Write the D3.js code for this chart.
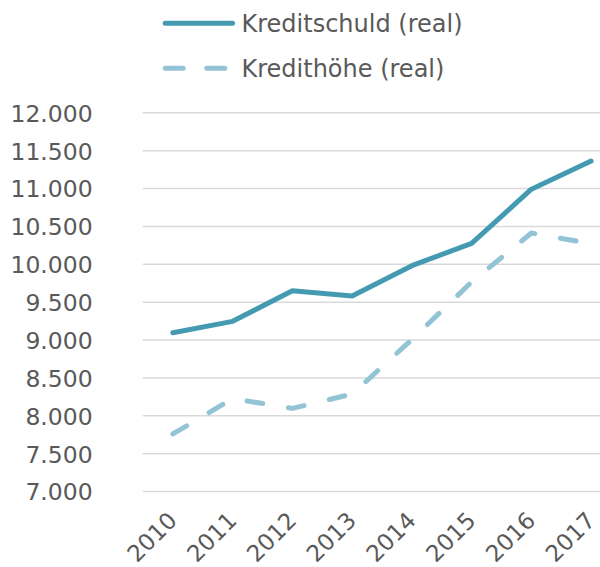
<!DOCTYPE html>
<html>
<head>
<meta charset="utf-8">
<script src="https://cdn.jsdelivr.net/npm/d3@7"></script>
<style>
  html, body { margin: 0; padding: 0; background: #fff; }
  svg { display: block; }
</style>
</head>
<body>
<svg id="chart" width="600" height="567"></svg>
<script>
const years = ["2010", "2011", "2012", "2013", "2014", "2015", "2016", "2017"];
const kreditschuld = [9090, 9240, 9645, 9575, 9975, 10270, 10985, 11357];
const kredithoehe = [7753, 8220, 8090, 8280, 9000, 9760, 10406, 10264];
const yTicks = [7000, 7500, 8000, 8500, 9000, 9500, 10000, 10500, 11000, 11500, 12000];
const seriesNames = ["Kreditschuld (real)", "Kredithöhe (real)"];

const textColor = "#595959";
const gridColor = "#D9D9D9";
const solidColor = "#449AB1";
const dashColor = "#93C4D6";
const font = "'DejaVu Sans', Verdana, sans-serif";

const locale = d3.formatLocale({ decimal: ",", thousands: ".", grouping: [3], currency: ["", "€"] });
const fmt = locale.format(",d");

const svg = d3.select("#chart");
const left = 142.7, right = 600;

const x = d3.scalePoint().domain(years).range([143, 621]).padding(0.5);
const y = d3.scaleLinear().domain([7000, 12000]).range([491, 112.3]);

// Y axis with gridlines
const yAxis = svg.append("g")
  .attr("transform", `translate(${left},0)`)
  .call(d3.axisLeft(y).tickValues(yTicks).tickSize(-(right - left)).tickPadding(50).tickFormat(fmt));
yAxis.select(".domain").remove();
yAxis.selectAll(".tick line").attr("stroke", gridColor).attr("stroke-width", 1.5);
yAxis.selectAll(".tick text")
  .attr("fill", textColor)
  .attr("font-family", font)
  .attr("font-size", "23.5px")
  .attr("dy", "0.38em");

// X axis
const xAxis = svg.append("g")
  .attr("transform", `translate(0,${y(7000)})`)
  .call(d3.axisBottom(x).tickSize(0).tickPadding(0));
xAxis.select(".domain").remove();
xAxis.selectAll(".tick text")
  .attr("fill", textColor)
  .attr("font-family", font)
  .attr("font-size", "23px")
  .attr("text-anchor", "end")
  .attr("y", 0)
  .attr("dy", 0)
  .attr("transform", "translate(5,31) rotate(-45)");

// Lines
const line = d3.line().x((d, i) => x(years[i])).y(d => y(d));

svg.append("path")
  .datum(kredithoehe)
  .attr("d", line)
  .attr("fill", "none")
  .attr("stroke", dashColor)
  .attr("stroke-width", 5)
  .attr("stroke-linecap", "round")
  .attr("stroke-linejoin", "round")
  .attr("stroke-dasharray", "16,26");

svg.append("path")
  .datum(kreditschuld)
  .attr("d", line)
  .attr("fill", "none")
  .attr("stroke", solidColor)
  .attr("stroke-width", 5)
  .attr("stroke-linecap", "round")
  .attr("stroke-linejoin", "round");

// Legend
const legend = svg.append("g");
const legendItems = [
  { name: seriesNames[0], color: solidColor, dash: null, y: 23.3 },
  { name: seriesNames[1], color: dashColor, dash: "18,23.6", y: 68.3 }
];
legendItems.forEach(it => {
  legend.append("line")
    .attr("x1", 165.2).attr("x2", 232.5)
    .attr("y1", it.y).attr("y2", it.y)
    .attr("stroke", it.color)
    .attr("stroke-width", 5)
    .attr("stroke-linecap", "round")
    .attr("stroke-dasharray", it.dash);
  legend.append("text")
    .attr("x", 241.5).attr("y", it.y)
    .attr("dy", "0.36em")
    .attr("fill", textColor)
    .attr("font-family", font)
    .attr("font-size", "24px")
    .text(it.name);
});
</script>
</body>
</html>
